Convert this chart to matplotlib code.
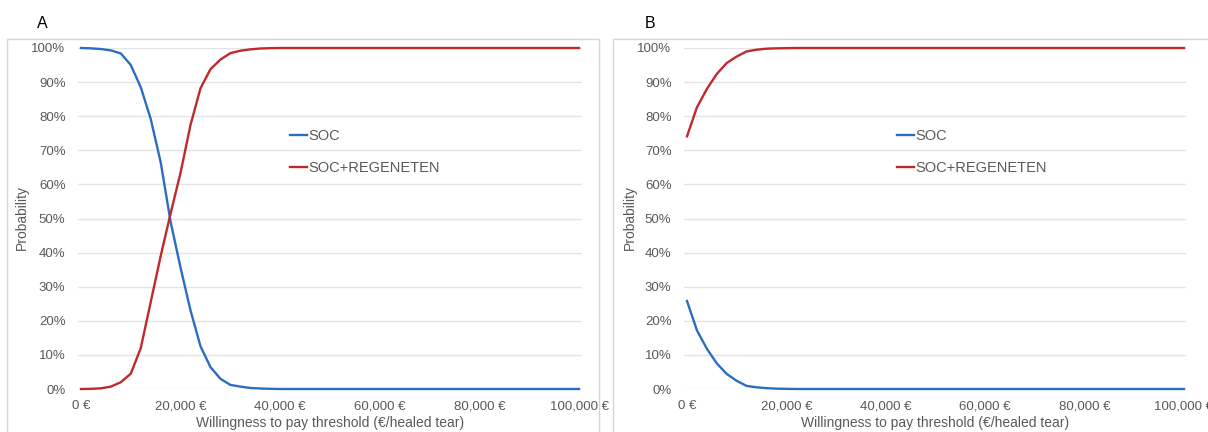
import matplotlib
matplotlib.use("Agg")
import matplotlib.pyplot as plt
from matplotlib.patches import Rectangle
from matplotlib.ticker import FuncFormatter, MultipleLocator

plt.rcParams['font.family'] = ['Liberation Sans', 'DejaVu Sans']

# Willingness-to-pay thresholds (EUR per healed tear), step 2000
wtp = list(range(0, 100001, 2000))

# Panel A probabilities (%)
soc_a_head = [100, 99.9, 99.7, 99.3, 98.4, 95.0, 88.5, 79.2, 66.5, 49.0,
              35.5, 23.0, 12.5, 6.4, 3.0, 1.2, 0.7, 0.3, 0.15, 0.05]
reg_a_head = [0, 0.05, 0.2, 0.7, 2.0, 4.5, 12.0, 25.5, 39.0, 51.5,
              63.5, 77.5, 88.2, 93.8, 96.6, 98.5, 99.2, 99.6, 99.85, 99.95]
soc_a = soc_a_head + [0.0] * (len(wtp) - len(soc_a_head))
reg_a = reg_a_head + [100.0] * (len(wtp) - len(reg_a_head))

# Panel B probabilities (%)
soc_b_head = [25.8, 17.2, 11.8, 7.5, 4.4, 2.4, 0.9, 0.5, 0.25, 0.1, 0.05]
reg_b_head = [74.1, 82.6, 88.0, 92.4, 95.6, 97.5, 99.0, 99.5, 99.8, 99.9, 99.95]
soc_b = soc_b_head + [0.0] * (len(wtp) - len(soc_b_head))
reg_b = reg_b_head + [100.0] * (len(wtp) - len(reg_b_head))

series_labels = ["SOC", "SOC+REGENETEN"]
panel_labels = ["A", "B"]
xlabel = "Willingness to pay threshold (\u20ac/healed tear)"
ylabel = "Probability"

BLUE = "#2C6DC2"
RED = "#C0282C"
TXT = "#595959"
GRID = "#E4E4E4"
FRAME = "#D6D6D6"

W, H = 1208, 432
fig = plt.figure(figsize=(W / 100, H / 100), dpi=100)

def rect(l, r, top, bottom):
    return [l / W, 1 - bottom / H, (r - l) / W, (bottom - top) / H]

# panel frames
fig.patches.append(Rectangle((7 / W, -0.05), (599 - 7) / W, 1.05 - 39 / H,
                             transform=fig.transFigure, fill=False,
                             edgecolor=FRAME, linewidth=1.0))
fig.patches.append(Rectangle((613 / W, -0.05), (1215 - 613) / W, 1.05 - 39 / H,
                             transform=fig.transFigure, fill=False,
                             edgecolor=FRAME, linewidth=1.0))

panels = [
    dict(x0=81, x1=579, gl=78, gr=582, ylab_x=22, lab_x=37, leg_x=290,
         soc=soc_a, reg=reg_a),
    dict(x0=687, x1=1184, gl=684, gr=1186, ylab_x=630, lab_x=645, leg_x=897,
         soc=soc_b, reg=reg_b),
]

for p, plab in zip(panels, panel_labels):
    ax = fig.add_axes(rect(p['gl'], p['gr'], 48, 389))
    scale = (p['x1'] - p['x0']) / 100000.0
    ax.set_xlim((p['gl'] - p['x0']) / scale, (p['gr'] - p['x0']) / scale)
    ax.set_ylim(0, 100)
    ax.plot(wtp, p['soc'], color=BLUE, lw=1.7, label=series_labels[0],
            clip_on=False, zorder=3)
    ax.plot(wtp, p['reg'], color=RED, lw=1.7, label=series_labels[1],
            clip_on=False, zorder=3)
    ax.yaxis.set_major_locator(MultipleLocator(10))
    ax.xaxis.set_major_locator(MultipleLocator(20000))
    ax.yaxis.set_major_formatter(FuncFormatter(lambda v, pos: f"{int(round(v))}%"))
    ax.xaxis.set_major_formatter(FuncFormatter(lambda v, pos: f"{int(round(v)):,} \u20ac"))
    ax.grid(axis='y', color=GRID, lw=1.0)
    ax.set_axisbelow(True)
    for s in ax.spines.values():
        s.set_visible(False)
    ax.tick_params(length=0, labelsize=9.5, labelcolor=TXT)
    ax.tick_params(axis='x', pad=8)
    ax.tick_params(axis='y', pad=9)
    ax.set_facecolor('none')
    fig.text(p['ylab_x'] / W, 1 - 218 / H, ylabel, rotation=90, ha='center',
             va='center', fontsize=10, color=TXT)
    fig.text((p['x0'] + p['x1']) / 2 / W, 1 - 423 / H, xlabel, ha='center',
             va='center', fontsize=10, color=TXT)
    fig.text(p['lab_x'] / W, 1 - 23 / H, plab, ha='left', va='center',
             fontsize=11.5, color='black')
    ax.legend(loc='upper left', bbox_to_anchor=(p['leg_x'] / W, 1 - 129 / H),
              bbox_transform=fig.transFigure, frameon=False, fontsize=10.5,
              handlelength=1.15, handletextpad=0.1, labelspacing=1.25,
              borderpad=0, borderaxespad=0, labelcolor=TXT)

fig.savefig("out.png", dpi=100)
